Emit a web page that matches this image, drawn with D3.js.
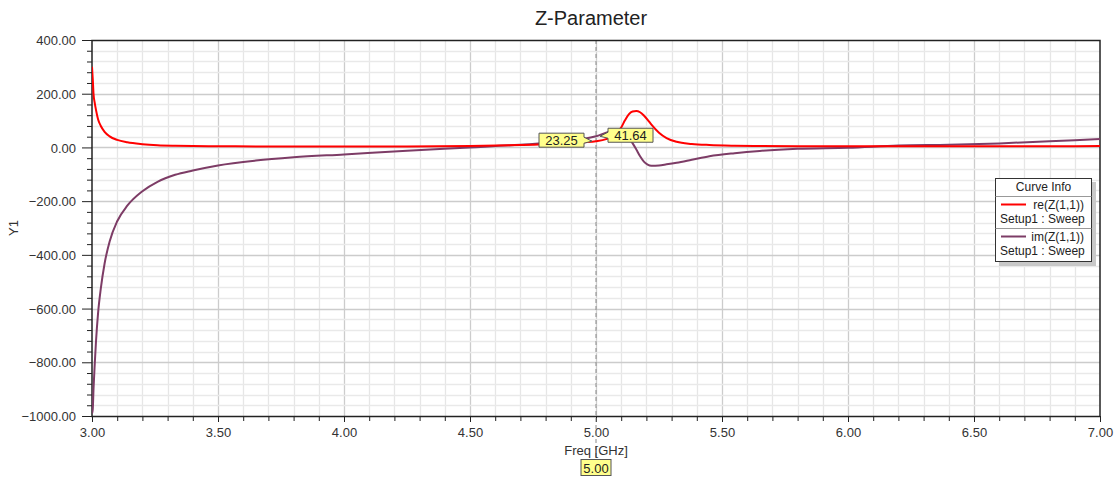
<!DOCTYPE html>
<html>
<head>
<meta charset="utf-8">
<script src="https://cdn.jsdelivr.net/npm/d3@7"></script>
<style>
  html, body { margin: 0; padding: 0; background: #fff; }
  svg { display: block; font-family: "Liberation Sans", Arial, sans-serif; }
</style>
</head>
<body>
<svg id="chart" width="1119" height="477"></svg>
<script>
// Sweep frequencies (GHz) and Z(1,1) samples
const freq = [3.000, 3.003, 3.006, 3.011, 3.016, 3.024, 3.035, 3.050, 3.070, 3.100,
              3.140, 3.200, 3.260, 3.330, 3.400, 3.500, 3.650, 3.800, 4.000, 4.250,
              4.500, 4.700, 4.850, 4.950, 5.000, 5.040, 5.070, 5.100, 5.115, 5.130,
              5.145, 5.160, 5.175, 5.190, 5.205, 5.220, 5.250, 5.280, 5.320, 5.380,
              5.450, 5.550, 5.650, 5.800, 6.000, 6.200, 6.400, 6.600, 6.800, 7.000];
const reZ11 = [300, 255, 200, 165, 139, 105, 80, 58, 41, 28,
               19, 12, 8, 6, 5, 4.5, 3.5, 3, 3, 3,
               5, 9, 14, 19.5, 23.25, 31, 45, 74, 101, 123,
               134, 136, 131, 119, 103, 85, 55, 35, 21, 13,
               9, 6.5, 5.5, 4.5, 4, 4, 4, 4, 4.5, 5];
const imZ11 = [-990, -975, -900, -804, -720, -618, -525, -432, -350, -275,
               -217, -163, -128, -102, -86, -67, -49, -37, -26, -12,
               0, 10, 20, 32, 41.64, 55, 63, 60, 50, 36,
               16, -8, -33, -53, -64, -68, -67, -63, -57, -46,
               -33, -21.5, -13, -5, -1, 7, 10, 15, 23, 31];

const xTicks = [3.0, 3.5, 4.0, 4.5, 5.0, 5.5, 6.0, 6.5, 7.0];
const yTicks = [400, 200, 0, -200, -400, -600, -800, -1000];
const markerFreq = 5.00;

const seriesNames = ["re(Z(1,1))", "im(Z(1,1))"];
const seriesColors = ["#ff0000", "#7d3c66"];
const sweepName = "Setup1 : Sweep";

const svg = d3.select("#chart");
const pLeft = 92, pRight = 1100, pTop = 40, pBottom = 416;

const x = d3.scaleLinear().domain([3, 7]).range([pLeft, pRight]);
const y = d3.scaleLinear().domain([-1000, 400]).range([pBottom, pTop]);

// grid: minor every 0.1 GHz / 40, major every 0.5 GHz / 200
const gx = d3.range(3.1, 7.0, 0.1).map(v => +v.toFixed(2));
const gy = d3.range(-960, 400, 40);
const isHalf = v => Math.abs(v * 2 - Math.round(v * 2)) < 1e-6;
const grid = svg.append("g");
grid.selectAll("line.vx").data(gx).join("line")
  .attr("x1", d => Math.round(x(d)) + 0.5).attr("x2", d => Math.round(x(d)) + 0.5)
  .attr("y1", pTop).attr("y2", pBottom)
  .attr("stroke", d => isHalf(d) ? "#cccccc" : "#e6e6e6")
  .attr("stroke-width", 1.3);
grid.selectAll("line.hy").data(gy).join("line")
  .attr("y1", d => Math.round(y(d)) + 0.5).attr("y2", d => Math.round(y(d)) + 0.5)
  .attr("x1", pLeft).attr("x2", pRight)
  .attr("stroke", d => (d % 200 === 0) ? "#cccccc" : "#e9e9e9")
  .attr("stroke-width", 1.6);

// axes
const axisColor = "#222";
const yAxis = d3.axisLeft(y).tickValues(yTicks).tickSize(10).tickFormat(d3.format(".2f"));
const yMinor = d3.axisLeft(y).tickValues(gy.filter(v => v % 200 !== 0)).tickSize(5).tickFormat("");
const xAxis = d3.axisBottom(x).tickValues(xTicks).tickSize(6).tickFormat(d3.format(".2f"));
const xMinor = d3.axisBottom(x).tickValues(gx.filter(v => !isHalf(v))).tickSize(5).tickFormat("");

function styleAxis(g) {
  g.select(".domain").remove();
  g.selectAll(".tick line").attr("stroke", axisColor);
  g.selectAll(".tick text").attr("fill", "#333").attr("font-size", 13)
    .attr("font-family", "'Liberation Sans', Arial, sans-serif");
}
svg.append("g").attr("transform", `translate(${pLeft},0)`).call(yAxis).call(styleAxis)
  .selectAll(".tick text").attr("x", -16).attr("dy", "0.36em");
svg.append("g").attr("transform", `translate(${pLeft},0)`).call(yMinor).call(styleAxis);
svg.append("g").attr("transform", `translate(0,${pBottom})`).call(xAxis).call(styleAxis)
  .selectAll(".tick text").attr("y", 12).attr("dy", "0.71em");
svg.append("g").attr("transform", `translate(0,${pBottom})`).call(xMinor).call(styleAxis);

// marker line
svg.append("line")
  .attr("x1", x(markerFreq)).attr("x2", x(markerFreq))
  .attr("y1", pTop).attr("y2", 460)
  .attr("stroke", "#8a8a8a").attr("stroke-width", 1).attr("stroke-dasharray", "4,3");

// frame
svg.append("rect").attr("x", pLeft).attr("y", pTop + 0.5)
  .attr("width", pRight - pLeft).attr("height", pBottom - pTop)
  .attr("fill", "none").attr("stroke", axisColor).attr("stroke-width", 1.5);

// traces
svg.append("clipPath").attr("id", "plotClip").append("rect")
  .attr("x", pLeft).attr("y", pTop).attr("width", pRight - pLeft).attr("height", pBottom - pTop);
const line = d3.line().x(d => x(d[0])).y(d => y(d[1])).curve(d3.curveMonotoneX);
const traces = [reZ11, imZ11];
const plot = svg.append("g").attr("clip-path", "url(#plotClip)");
[1, 0].forEach(i => {
  plot.append("path")
    .datum(freq.map((f, j) => [f, traces[i][j]]))
    .attr("fill", "none").attr("stroke", seriesColors[i]).attr("stroke-width", 2)
    .attr("d", line);
});

// marker value boxes
function markerBox(px, py, text, side) {
  const w = text.length * 7.4 + 8, h = 14;
  const gap = 12;
  const bx = side === "left" ? px - gap - w : px + gap;
  const by = py - h / 2 - 1;
  const g = svg.append("g");
  let path;
  if (side === "left") {
    const rx = bx + w;
    path = `M${bx},${by}H${rx}V${by + 4}L${px - 4},${py}L${rx},${by + 10}V${by + h}H${bx}Z`;
  } else {
    path = `M${bx},${by}H${bx + w}V${by + h}H${bx}V${by + 10}L${px + 4},${py}L${bx},${by + 4}Z`;
  }
  g.append("path").attr("d", path).attr("fill", "#ffff8c").attr("stroke", "#555").attr("stroke-width", 1);
  g.append("text").attr("x", bx + w / 2).attr("y", by + h / 2 + 4.5)
    .attr("text-anchor", "middle").attr("font-size", 13).attr("fill", "#222").text(text);
}
const mi = freq.indexOf(markerFreq);
markerBox(x(markerFreq), y(reZ11[mi]), reZ11[mi].toFixed(2), "left");
markerBox(x(markerFreq), y(imZ11[mi]), imZ11[mi].toFixed(2), "right");

// title and axis labels
svg.append("text").attr("x", 591).attr("y", 25).attr("text-anchor", "middle")
  .attr("font-size", 20).attr("fill", "#222").text("Z-Parameter");
svg.append("text").attr("transform", "translate(18,228) rotate(-90)")
  .attr("text-anchor", "middle").attr("font-size", 13).attr("fill", "#333").text("Y1");
svg.append("text").attr("x", x(markerFreq)).attr("y", 455).attr("text-anchor", "middle")
  .attr("font-size", 13).attr("fill", "#333").text("Freq [GHz]");

// x marker readout
svg.append("rect").attr("x", x(markerFreq) - 15).attr("y", 459.5).attr("width", 30).attr("height", 16)
  .attr("fill", "#ffff8c").attr("stroke", "#555").attr("stroke-width", 1);
svg.append("text").attr("x", x(markerFreq)).attr("y", 473).attr("text-anchor", "middle")
  .attr("font-size", 13).attr("fill", "#222").text(markerFreq.toFixed(2));

// legend
const lg = svg.append("g").attr("transform", "translate(995,178)");
lg.append("rect").attr("x", 4).attr("y", 4).attr("width", 97).attr("height", 84).attr("fill", "#c8c8c8");
lg.append("rect").attr("x", 0.5).attr("y", 0.5).attr("width", 96).attr("height", 83)
  .attr("fill", "#fff").attr("stroke", "#333").attr("stroke-width", 1);
lg.append("text").attr("x", 48.5).attr("y", 13).attr("text-anchor", "middle")
  .attr("font-size", 12).attr("fill", "#222").text("Curve Info");
[18.5, 50.5].forEach(v => lg.append("line").attr("x1", 0.5).attr("x2", 96.5)
  .attr("y1", v).attr("y2", v).attr("stroke", "#999"));
seriesNames.forEach((name, i) => {
  const oy = 19 + i * 32;
  lg.append("line").attr("x1", 6).attr("x2", 31).attr("y1", oy + 7.5).attr("y2", oy + 7.5)
    .attr("stroke", seriesColors[i]).attr("stroke-width", 2);
  lg.append("text").attr("x", 89).attr("y", oy + 11.5).attr("text-anchor", "end")
    .attr("font-size", 12).attr("fill", "#222").text(name);
  lg.append("text").attr("x", 5).attr("y", oy + 26).attr("font-size", 12).attr("fill", "#222").text(sweepName);
});
</script>
</body>
</html>
